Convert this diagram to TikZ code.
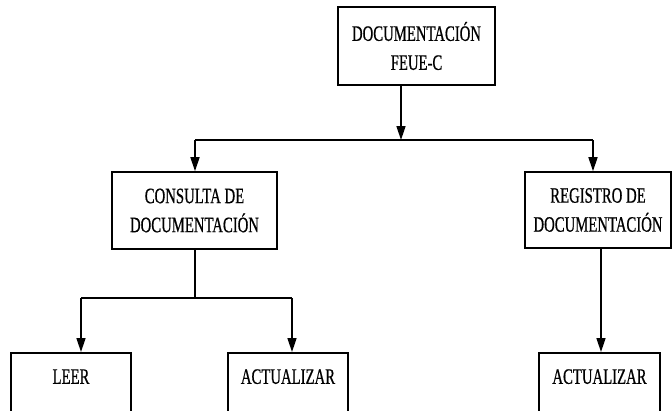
\documentclass[tikz,border=0pt]{standalone}
\usepackage{fontspec}
\setmainfont{Liberation Serif}[FakeStretch=0.67, FakeBold=0.6]
\usetikzlibrary{arrows.meta}

\tikzset{
  caja/.style={draw, line width=1.6pt, align=center, inner sep=0pt, font=\fontsize{22}{29}\selectfont},
  hoja/.style={caja, anchor=north, minimum width=120pt, text height=31pt, text depth=80pt},
  flecha/.style={-{Triangle[width=9pt,length=14pt]}, line width=1.6pt},
  linea/.style={line width=1.6pt}
}

\begin{document}
\begin{tikzpicture}[x=1pt,y=-1pt]
\useasboundingbox (0,0) rectangle (672,410);
\node[caja, minimum width=157pt, minimum height=78pt] (doc) at (416.5,46) {DOCUMENTACIÓN\\FEUE-C};
\node[caja, minimum width=165pt, minimum height=77pt] (consulta) at (194.5,210.5) {CONSULTA DE\\DOCUMENTACIÓN};
\node[caja, minimum width=146pt, minimum height=76pt] (registro) at (598,210) {REGISTRO DE\\DOCUMENTACIÓN};
\node[hoja] (leer) at (71,352) {LEER};
\node[hoja] (actualizarC) at (288,352) {ACTUALIZAR};
\node[hoja, minimum width=121pt] (actualizarR) at (599.5,352) {ACTUALIZAR};

% uniones
\coordinate (bus) at (401,140);
\coordinate (busL) at (195,140);
\coordinate (busR) at (593,140);
\coordinate (rama) at (195,298);
\coordinate (ramaL) at (81,298);
\coordinate (ramaR) at (292,298);

\draw[flecha] (doc.south -| bus) -- (bus);
\draw[linea] (busL) -- (busR);
\draw[flecha] (busL) -- (busL |- consulta.north);
\draw[flecha] (busR) -- (busR |- registro.north);

\draw[linea] (consulta.south -| rama) -- (rama);
\draw[linea] (ramaL) -- (ramaR);
\draw[flecha] (ramaL) -- (ramaL |- leer.north);
\draw[flecha] (ramaR) -- (ramaR |- actualizarC.north);

\draw[flecha] ([xshift=3pt]registro.south) -- ([xshift=3pt]registro.south |- actualizarR.north);
\end{tikzpicture}
\end{document}
